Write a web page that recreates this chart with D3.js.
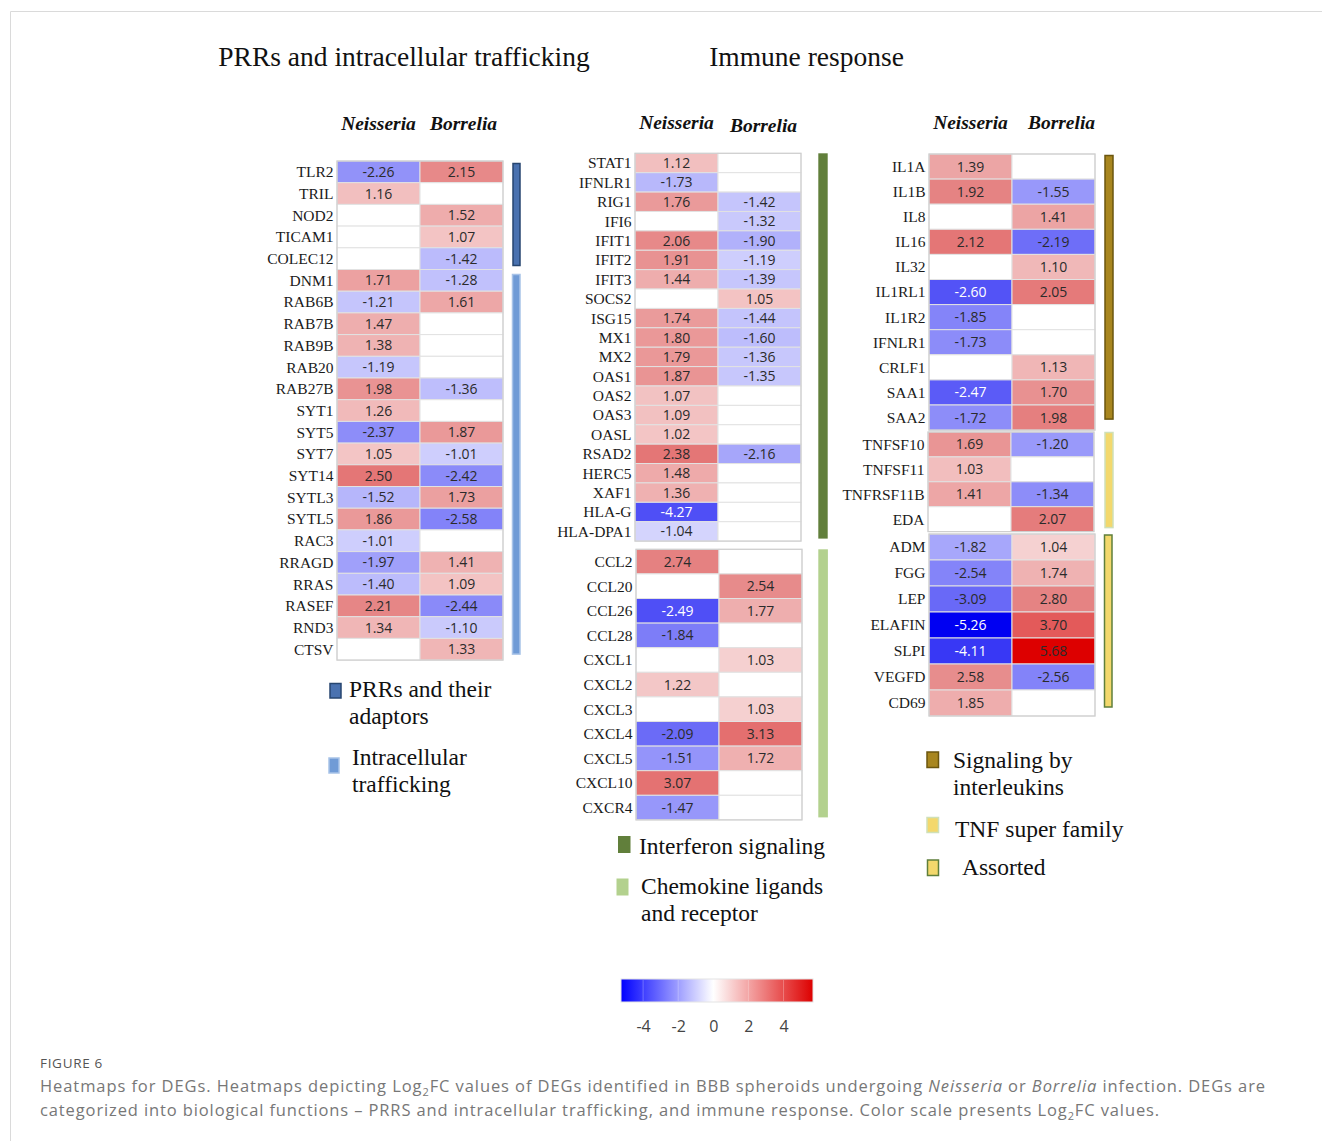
<!DOCTYPE html>
<html>
<head>
<meta charset="utf-8">
<script src="https://cdn.jsdelivr.net/npm/d3@7"></script>
<style>
  body { margin: 0; background: #fff; }
</style>
</head>
<body>
<div id="viz"></div>
<script>
const width = 1322;
const height = 1141;

// ---- data (null = not differentially expressed) ----
const columns = ['Neisseria', 'Borrelia'];

const prrGenes = ['TLR2', 'TRIL', 'NOD2', 'TICAM1', 'COLEC12', 'DNM1', 'RAB6B', 'RAB7B', 'RAB9B', 'RAB20',
  'RAB27B', 'SYT1', 'SYT5', 'SYT7', 'SYT14', 'SYTL3', 'SYTL5', 'RAC3', 'RRAGD', 'RRAS', 'RASEF', 'RND3', 'CTSV'];
const prrNeisseria = [-2.26, 1.16, null, null, null, 1.71, -1.21, 1.47, 1.38, -1.19,
  1.98, 1.26, -2.37, 1.05, 2.50, -1.52, 1.86, -1.01, -1.97, -1.40, 2.21, 1.34, null];
const prrBorrelia = [2.15, null, 1.52, 1.07, -1.42, -1.28, 1.61, null, null, null,
  -1.36, null, 1.87, -1.01, -2.42, 1.73, -2.58, null, 1.41, 1.09, -2.44, -1.10, 1.33];

const ifnGenes = ['STAT1', 'IFNLR1', 'RIG1', 'IFI6', 'IFIT1', 'IFIT2', 'IFIT3', 'SOCS2', 'ISG15', 'MX1',
  'MX2', 'OAS1', 'OAS2', 'OAS3', 'OASL', 'RSAD2', 'HERC5', 'XAF1', 'HLA-G', 'HLA-DPA1'];
const ifnNeisseria = [1.12, -1.73, 1.76, null, 2.06, 1.91, 1.44, null, 1.74, 1.80,
  1.79, 1.87, 1.07, 1.09, 1.02, 2.38, 1.48, 1.36, -4.27, -1.04];
const ifnBorrelia = [null, null, -1.42, -1.32, -1.90, -1.19, -1.39, 1.05, -1.44, -1.60,
  -1.36, -1.35, null, null, null, -2.16, null, null, null, null];

const chemoGenes = ['CCL2', 'CCL20', 'CCL26', 'CCL28', 'CXCL1', 'CXCL2', 'CXCL3', 'CXCL4', 'CXCL5', 'CXCL10', 'CXCR4'];
const chemoNeisseria = [2.74, null, -2.49, -1.84, null, 1.22, null, -2.09, -1.51, 3.07, -1.47];
const chemoBorrelia = [null, 2.54, 1.77, null, 1.03, null, 1.03, 3.13, 1.72, null, null];

const ilGenes = ['IL1A', 'IL1B', 'IL8', 'IL16', 'IL32', 'IL1RL1', 'IL1R2', 'IFNLR1', 'CRLF1', 'SAA1', 'SAA2'];
const ilNeisseria = [1.39, 1.92, null, 2.12, null, -2.60, -1.85, -1.73, null, -2.47, -1.72];
const ilBorrelia = [null, -1.55, 1.41, -2.19, 1.10, 2.05, null, null, 1.13, 1.70, 1.98];

const tnfGenes = ['TNFSF10', 'TNFSF11', 'TNFRSF11B', 'EDA'];
const tnfNeisseria = [1.69, 1.03, 1.41, null];
const tnfBorrelia = [-1.20, null, -1.34, 2.07];

const assortedGenes = ['ADM', 'FGG', 'LEP', 'ELAFIN', 'SLPI', 'VEGFD', 'CD69'];
const assortedNeisseria = [-1.82, -2.54, -3.09, -5.26, -4.11, 2.58, 1.85];
const assortedBorrelia = [1.04, 1.74, 2.80, 3.70, 5.68, -2.56, null];

const scaleExtent = [-5.26, 5.68];
const scaleTicks = [-4, -2, 0, 2, 4];

// ---- layout ----
const serif = '"Liberation Serif", "Times New Roman", serif';
const sans = '"Open Sans", "Liberation Sans", sans-serif';
const colW = 83;

const blocks = [
  { id: 'prr', genes: prrGenes, values: [prrNeisseria, prrBorrelia], x: 337, top: 161, rowH: 21.7, blueMax: 5.3, redMax: 4.6 },
  { id: 'ifn', genes: ifnGenes, values: [ifnNeisseria, ifnBorrelia], x: 635, top: 153.3, rowH: 19.39, blueMax: 6.2, redMax: 4.4 },
  { id: 'chemo', genes: chemoGenes, values: [chemoNeisseria, chemoBorrelia], x: 636, top: 549.3, rowH: 24.6, blueMax: 3.6, redMax: 5.5 },
  { id: 'il', genes: ilGenes, values: [ilNeisseria, ilBorrelia], x: 929, top: 154, rowH: 25.1, blueMax: 3.85, redMax: 3.9 },
  { id: 'tnf', genes: tnfGenes, values: [tnfNeisseria, tnfBorrelia], x: 928, top: 432, rowH: 24.9, blueMax: 3.0, redMax: 4.0 },
  { id: 'assorted', genes: assortedGenes, values: [assortedNeisseria, assortedBorrelia], x: 929, top: 534, rowH: 26, blueMax: 5.26, redMax: 5.68 }
];

const headers = [
  { x: 337, y: 130, dx: [0, 2] },
  { x: 635, y: 129, dx: [0, 4], dy: [0, 2.5] },
  { x: 929, y: 129, dx: [0, 8] }
];

const groupBars = [
  { block: 'prr', from: 'TLR2', to: 'COLEC12', fill: '#4a72b0', stroke: '#274670', x: 513, w: 7, padTop: 2.5, padBottom: 4 },
  { block: 'prr', from: 'DNM1', to: 'CTSV', fill: '#709bd6', stroke: '#a8c3e8', x: 512.5, w: 7.5, padTop: 5, padBottom: 6 },
  { block: 'ifn', from: 'STAT1', to: 'HLA-DPA1', fill: '#617f3b', stroke: 'none', x: 818.3, w: 9.4, padTop: 0, padBottom: 2.5 },
  { block: 'chemo', from: 'CCL2', to: 'CXCR4', fill: '#b3d18e', stroke: 'none', x: 818.3, w: 9.6, padTop: 0, padBottom: 2.5 },
  { block: 'il', from: 'IL1A', to: 'SAA2', fill: '#a8861f', stroke: '#6b560f', x: 1105, w: 8, padTop: 1.5, padBottom: 11 },
  { block: 'tnf', from: 'TNFSF10', to: 'EDA', fill: '#f3d86c', stroke: '#cfe0b8', x: 1105, w: 8, padTop: 0.5, padBottom: 4 },
  { block: 'assorted', from: 'ADM', to: 'CD69', fill: '#f3d86c', stroke: '#5f7f3b', x: 1104.5, w: 7.5, padTop: 1, padBottom: 9 }
];

const legendItems = [
  { lines: ['PRRs and their', 'adaptors'], fill: '#4a72b0', stroke: '#274670', sx: 330, sy: 683.5, sw: 11, sh: 14.5, tx: 349, ty: 697 },
  { lines: ['Intracellular', 'trafficking'], fill: '#709bd6', stroke: '#a8c3e8', sx: 329, sy: 758, sw: 10, sh: 15, tx: 352, ty: 765 },
  { lines: ['Interferon signaling'], fill: '#617f3b', stroke: 'none', sx: 618, sy: 836, sw: 12.5, sh: 17, tx: 639, ty: 854 },
  { lines: ['Chemokine ligands', 'and receptor'], fill: '#b3d18e', stroke: 'none', sx: 616.5, sy: 878.5, sw: 12, sh: 17, tx: 641, ty: 894 },
  { lines: ['Signaling by', 'interleukins'], fill: '#a8861f', stroke: '#6b560f', sx: 927, sy: 752, sw: 11.5, sh: 15.5, tx: 953, ty: 768 },
  { lines: ['TNF super family'], fill: '#f3d86c', stroke: '#cfe0b8', sx: 927, sy: 817.5, sw: 11.5, sh: 15, tx: 955, ty: 837 },
  { lines: ['Assorted'], fill: '#f3d86c', stroke: '#5f7f3b', sx: 927.5, sy: 860, sw: 11, sh: 15.5, tx: 962, ty: 875 }
];

const svg = d3.select('#viz')
  .append('svg')
    .attr('width', width)
    .attr('height', height)
    .attr('viewBox', `0 0 ${width} ${height}`);

// fit a text element to a target width by spreading letters
const fitWidth = (sel, target) => {
  const node = sel.node();
  const len = node.getComputedTextLength();
  const n = node.textContent.length;
  sel.style('letter-spacing', `${(target - len) / n}px`);
};

// frame
svg.append('path')
  .attr('d', `M10.5,${height} V11.5 H${width}`)
  .attr('fill', 'none')
  .attr('stroke', '#dadada');

// panel titles
svg.append('text')
  .attr('x', 404).attr('y', 66)
  .attr('text-anchor', 'middle')
  .style('font-family', serif).style('font-size', '27.5px').attr('fill', '#111')
  .text('PRRs and intracellular trafficking');
svg.append('text')
  .attr('x', 806.5).attr('y', 66)
  .attr('text-anchor', 'middle')
  .style('font-family', serif).style('font-size', '27.5px').attr('fill', '#111')
  .text('Immune response');

// column headers
headers.forEach(h => {
  const x = d3.scaleBand().domain(columns).range([h.x, h.x + 2 * colW]);
  svg.append('g').selectAll('text')
    .data(columns)
    .join('text')
      .attr('x', (d, i) => x(d) + x.bandwidth() / 2 + h.dx[i])
      .attr('y', (d, i) => h.y + (h.dy ? h.dy[i] : 0))
      .attr('text-anchor', 'middle')
      .style('font-family', serif)
      .style('font-size', '19.5px')
      .style('font-weight', 700)
      .style('font-style', 'italic')
      .attr('fill', '#111')
      .text(d => d);
});

// heatmap blocks
const blockScales = {};
blocks.forEach(b => {
  const y = d3.scaleBand().domain(b.genes).range([b.top, b.top + b.genes.length * b.rowH]);
  const x = d3.scaleBand().domain(columns).range([b.x, b.x + 2 * colW]);
  const color = d3.scaleLinear()
    .domain([-b.blueMax, 0, b.redMax / 2, b.redMax])
    .range(['#0000f2', '#ffffff', '#e58181', '#dd0000'])
    .clamp(true);
  blockScales[b.id] = y;

  const cells = b.genes.flatMap((g, i) => columns.map((c, j) => ({ gene: g, col: c, v: b.values[j][i] })));
  const g = svg.append('g').attr('class', `block-${b.id}`);

  g.selectAll('rect.cell')
    .data(cells)
    .join('rect')
      .attr('class', 'cell')
      .attr('x', d => x(d.col))
      .attr('y', d => y(d.gene))
      .attr('width', x.bandwidth())
      .attr('height', y.bandwidth())
      .attr('fill', d => d.v == null ? '#ffffff' : color(d.v))
      .attr('stroke', '#e2e2e2')
      .attr('stroke-width', 1);

  g.append('rect')
    .attr('x', b.x)
    .attr('y', b.top)
    .attr('width', 2 * colW)
    .attr('height', b.genes.length * b.rowH)
    .attr('fill', 'none')
    .attr('stroke', '#cfcfcf')
    .attr('stroke-width', 1.2);

  g.selectAll('text.val')
    .data(cells.filter(d => d.v != null))
    .join('text')
      .attr('class', 'val')
      .attr('x', d => x(d.col) + x.bandwidth() / 2)
      .attr('y', d => y(d.gene) + y.bandwidth() / 2)
      .attr('dy', '0.36em')
      .attr('text-anchor', 'middle')
      .style('font-family', sans)
      .style('font-size', '14px')
      .attr('fill', d => (d.v < 0 && -d.v / b.blueMax > 0.62) ? '#ffffff' : '#2b2b2b')
      .text(d => d.v.toFixed(2));

  g.selectAll('text.gene')
    .data(b.genes)
    .join('text')
      .attr('class', 'gene')
      .attr('x', b.x - 3.5)
      .attr('y', d => y(d) + y.bandwidth() / 2)
      .attr('dy', '0.35em')
      .attr('text-anchor', 'end')
      .style('font-family', serif)
      .style('font-size', '15.5px')
      .attr('fill', '#1a1a1a')
      .text(d => d);
});

// category bars
svg.append('g').selectAll('rect')
  .data(groupBars)
  .join('rect')
    .attr('x', d => d.x)
    .attr('y', d => blockScales[d.block](d.from) + d.padTop)
    .attr('width', d => d.w)
    .attr('height', d => {
      const y = blockScales[d.block];
      return y(d.to) + y.bandwidth() - d.padBottom - (y(d.from) + d.padTop);
    })
    .attr('fill', d => d.fill)
    .attr('stroke', d => d.stroke)
    .attr('stroke-width', 1.5);

// legends
const legend = svg.append('g').selectAll('g')
  .data(legendItems)
  .join('g');
legend.append('rect')
  .attr('x', d => d.sx).attr('y', d => d.sy)
  .attr('width', d => d.sw).attr('height', d => d.sh)
  .attr('fill', d => d.fill)
  .attr('stroke', d => d.stroke)
  .attr('stroke-width', 1.5);
legend.append('text')
  .style('font-family', serif)
  .style('font-size', '23.5px')
  .attr('fill', '#111')
  .selectAll('tspan')
  .data(d => d.lines.map((l, i) => ({ l, i, d })))
  .join('tspan')
    .attr('x', e => e.d.tx)
    .attr('y', e => e.d.ty + e.i * 27)
    .text(e => e.l);

// colour scale
const scaleX = d3.scaleLinear().domain(scaleExtent).range([621, 813]);
const gradColor = d3.scaleLinear().domain([scaleExtent[0], 0, scaleExtent[1]]).range(['#0000ff', '#ffffff', '#dd0000']);
const grad = svg.append('defs').append('linearGradient').attr('id', 'lfc');
const zeroAt = (0 - scaleExtent[0]) / (scaleExtent[1] - scaleExtent[0]);
const stopOffsets = d3.range(0, 1.0001, 0.05).concat([zeroAt]).sort(d3.ascending);
grad.selectAll('stop')
  .data(stopOffsets)
  .join('stop')
    .attr('offset', t => `${t * 100}%`)
    .attr('stop-color', t => gradColor(scaleExtent[0] + t * (scaleExtent[1] - scaleExtent[0])));

svg.append('rect')
  .attr('x', scaleX.range()[0]).attr('y', 979)
  .attr('width', scaleX.range()[1] - scaleX.range()[0]).attr('height', 23)
  .attr('fill', 'url(#lfc)')
  .attr('stroke', '#e4e4e4');
svg.append('g').selectAll('line')
  .data(scaleTicks)
  .join('line')
    .attr('x1', d => scaleX(d)).attr('x2', d => scaleX(d))
    .attr('y1', 980).attr('y2', 1001)
    .attr('stroke', '#ffffff').attr('stroke-opacity', 0.25);

const axis = d3.axisBottom(scaleX).tickValues(scaleTicks).tickSize(0).tickPadding(0).tickFormat(d3.format('d'));
const ax = svg.append('g')
  .attr('transform', 'translate(0,1021)')
  .call(axis);
ax.select('.domain').remove();
ax.selectAll('text')
  .style('font-family', sans)
  .style('font-size', '16px')
  .attr('fill', '#444')
  .text(d => d < 0 ? '-' + Math.abs(d) : d);

// caption
const figLabel = svg.append('text')
  .attr('x', 40).attr('y', 1068)
  .style('font-family', sans).style('font-size', '13.5px')
  .attr('fill', '#555')
  .text('FIGURE 6');
fitWidth(figLabel, 63);

const capStyle = t => t.style('font-family', sans).style('font-size', '16.5px').attr('fill', '#777');
const cap1 = svg.append('text').attr('x', 40).attr('y', 1092).call(capStyle);
cap1.append('tspan').text('Heatmaps for DEGs. Heatmaps depicting Log');
cap1.append('tspan').attr('dy', 4).style('font-size', '11px').text('2');
cap1.append('tspan').attr('dy', -4).text('FC values of DEGs identified in BBB spheroids undergoing ');
cap1.append('tspan').style('font-style', 'italic').text('Neisseria');
cap1.append('tspan').text(' or ');
cap1.append('tspan').style('font-style', 'italic').text('Borrelia');
cap1.append('tspan').text(' infection. DEGs are');
fitWidth(cap1, 1226);

const cap2 = svg.append('text').attr('x', 40).attr('y', 1116).call(capStyle);
cap2.append('tspan').text('categorized into biological functions \u2013 PRRS and intracellular trafficking, and immune response. Color scale presents Log');
cap2.append('tspan').attr('dy', 4).style('font-size', '11px').text('2');
cap2.append('tspan').attr('dy', -4).text('FC values.');
fitWidth(cap2, 1120);
</script>
</body>
</html>
